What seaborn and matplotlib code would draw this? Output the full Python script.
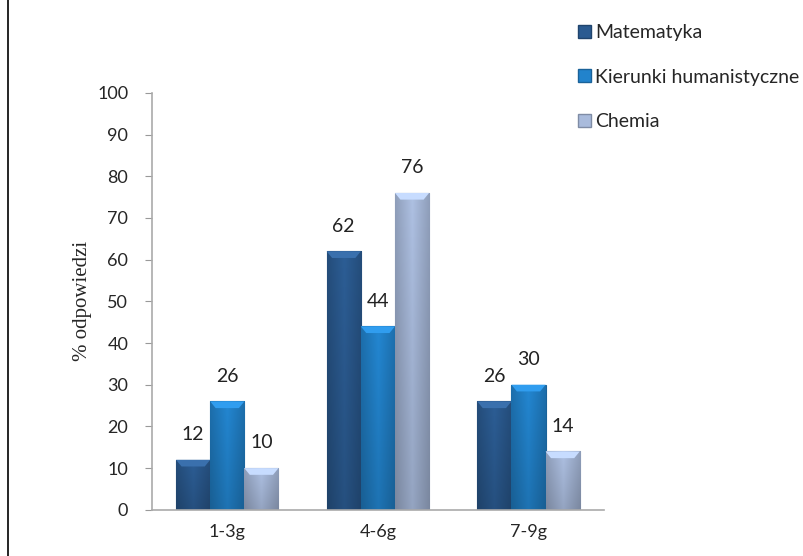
import numpy as np
import pandas as pd
import matplotlib
matplotlib.use('Agg')
import matplotlib.pyplot as plt
import seaborn as sns
from matplotlib.lines import Line2D
from matplotlib.colors import to_rgb

groups = ['1-3g', '4-6g', '7-9g']
series = ['Matematyka', 'Kierunki humanistyczne', 'Chemia']
matematyka = [12, 62, 26]
humanistyczne = [26, 44, 30]
chemia = [10, 76, 14]
colors = ['#2B5B91', '#2283CC', '#A9BBDC']

df = pd.DataFrame({
    'grupa': groups * 3,
    'kierunek': [s for s in series for _ in groups],
    'procent': matematyka + humanistyczne + chemia,
})

sns.set_style('white')
plt.rcParams['font.family'] = ['Lato', 'DejaVu Sans']
plt.rcParams['font.serif'] = ['Liberation Serif', 'DejaVu Serif']

fig = plt.figure(figsize=(8.04, 5.56), dpi=100)
ax = fig.add_axes([0.189, 0.083, 0.562, 0.750])

sns.barplot(data=df, x='grupa', y='procent', hue='kierunek', palette=colors,
            width=0.68, ax=ax, legend=True, saturation=1)

# bevel-like shading: gradient clipped to each bar
for patch in ax.patches:
    if patch.get_height() <= 0:
        continue
    base = np.array(to_rgb(patch.get_facecolor()))
    x0, y0 = patch.get_x(), patch.get_y()
    w, h = patch.get_width(), patch.get_height()
    t = np.linspace(0, 1, 64)
    edge = 1 - 0.18 * np.abs(t - 0.5) * 2
    vert = np.linspace(0.88, 1.03, 64)[:, None]
    img = np.clip(base[None, None, :] * edge[None, :, None] * vert[:, :, None], 0, 1)
    im = ax.imshow(img, extent=(x0, x0 + w, y0, y0 + h), origin='lower',
                   aspect='auto', zorder=patch.get_zorder() + 0.1)
    im.set_clip_path(patch)
    light = np.clip(base * 1.12 + 0.04, 0, 1)
    cap = min(1.6, h * 0.5)
    ax.fill([x0, x0 + w, x0 + w * 0.84, x0 + w * 0.16],
            [y0 + h, y0 + h, y0 + h - cap, y0 + h - cap],
            color=light, zorder=patch.get_zorder() + 0.2, lw=0)
    patch.set_edgecolor(base * 0.75)
    patch.set_linewidth(0.8)

for cont in ax.containers:
    ax.bar_label(cont, padding=12, fontsize=14, color='#222222')

ax.set_xlim(-0.5, 2.5)
ax.set_ylim(0, 100)
ax.set_yticks(range(0, 101, 10))
ax.set_xlabel('')
ylab = ax.set_ylabel('% odpowiedzi', fontsize=15, labelpad=4)
ylab.set_family('serif')
ax.tick_params(axis='y', length=5, color='#999999', labelsize=13, pad=12, left=True)
ax.tick_params(axis='x', length=0, labelsize=13, pad=10)
for sp in ['top', 'right']:
    ax.spines[sp].set_visible(False)
for sp in ['left', 'bottom']:
    ax.spines[sp].set_color('#AAAAAA')
    ax.spines[sp].set_linewidth(1.2)

handles = [plt.Rectangle((0, 0), 1, 1, fc=c, ec=np.array(to_rgb(c)) * 0.75) for c in colors]
ax.legend(handles, series, loc='upper left', bbox_to_anchor=(0.697, 0.988),
          bbox_transform=fig.transFigure, frameon=False, fontsize=14,
          handlelength=0.65, handleheight=0.65, handletextpad=0.25, labelspacing=1.42)

fig.add_artist(Line2D([0.01, 0.01], [0, 1], transform=fig.transFigure, color='black', lw=1.2))

fig.savefig('out.png', dpi=100)
